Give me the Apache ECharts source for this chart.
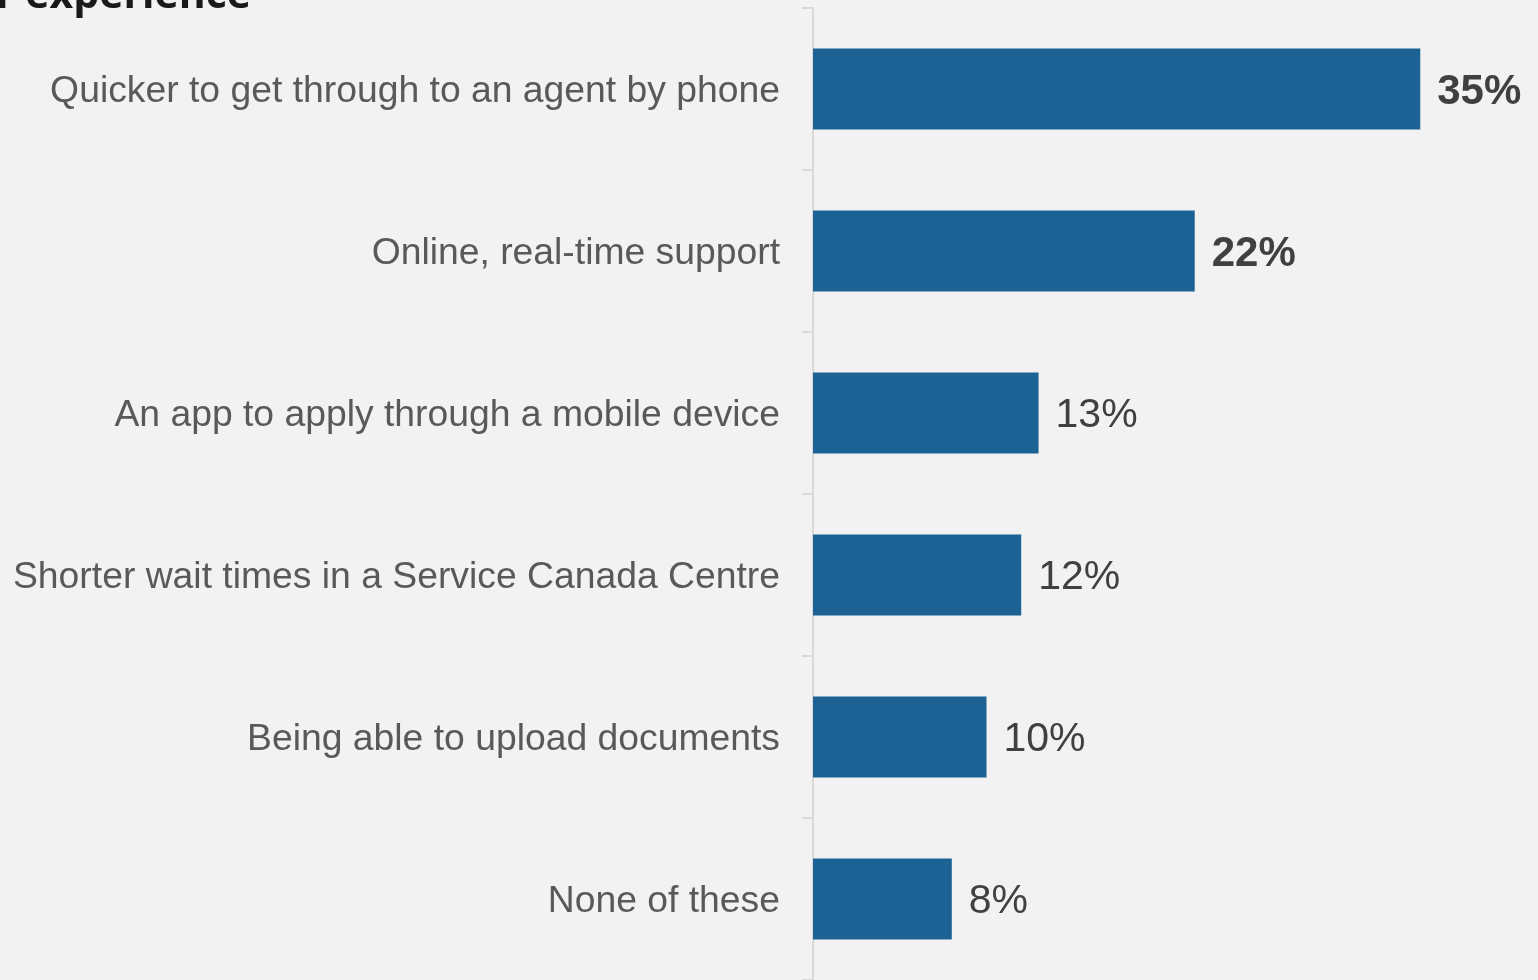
<!DOCTYPE html>
<html>
<head>
<meta charset="utf-8">
<script src="https://cdn.jsdelivr.net/npm/echarts@6/dist/echarts.min.js"></script>
<style>
  html, body { margin: 0; padding: 0; background: #F2F2F2; }
  #chart { width: 1538px; height: 980px; }
</style>
</head>
<body>
<div id="chart"></div>
<script>
// Survey responses: what would most improve the experience
const categories = [
  'Quicker to get through to an agent by phone',
  'Online, real-time support',
  'An app to apply through a mobile device',
  'Shorter wait times in a Service Canada Centre',
  'Being able to upload documents',
  'None of these'
];
const values = [35, 22, 13, 12, 10, 8];
// Top answers are called out in bold
const highlighted = [true, true, false, false, false, false];
const titleText = 'Service improvements that would most improve your experience';

const chart = echarts.init(document.getElementById('chart'), null, { renderer: 'canvas' });

const labelFont = '"Liberation Sans", Arial, sans-serif';

const option = {
  backgroundColor: '#F2F2F2',
  animation: false,
  graphic: [{
    type: 'text',
    right: 1287,
    top: -24,
    style: {
      text: titleText,
      font: 'bold 41px "Open Sans"',
      fill: '#1A1A1A'
    }
  }],
  grid: { left: 813, right: 31, top: 8, bottom: 0, containLabel: false },
  xAxis: {
    type: 'value',
    min: 0,
    max: 40,
    show: false
  },
  yAxis: {
    type: 'category',
    inverse: true,
    data: categories,
    axisLine: { show: true, lineStyle: { color: '#D9D9D9', width: 2 } },
    axisTick: { show: true, length: 11, lineStyle: { color: '#D9D9D9', width: 2 } },
    axisLabel: {
      margin: 33,
      formatter: v => '{c|' + v + '}',
      rich: {
        c: {
          fontFamily: labelFont,
          fontSize: 37.3,
          color: '#595959',
          padding: [6, 0, 0, 0]
        }
      }
    }
  },
  series: [{
    type: 'bar',
    barWidth: '50%',
    data: values.map((v, i) => ({
      value: v,
      label: {
        fontWeight: highlighted[i] ? 'bold' : 'normal',
        fontSize: highlighted[i] ? 42 : 41
      }
    })),
    itemStyle: { color: '#1D6294' },
    label: {
      show: true,
      position: 'right',
      distance: 17,
      offset: [0, 3],
      formatter: '{c}%',
      fontFamily: labelFont,
      fontSize: 41,
      color: '#404040'
    }
  }]
};

chart.setOption(option);
</script>
</body>
</html>
